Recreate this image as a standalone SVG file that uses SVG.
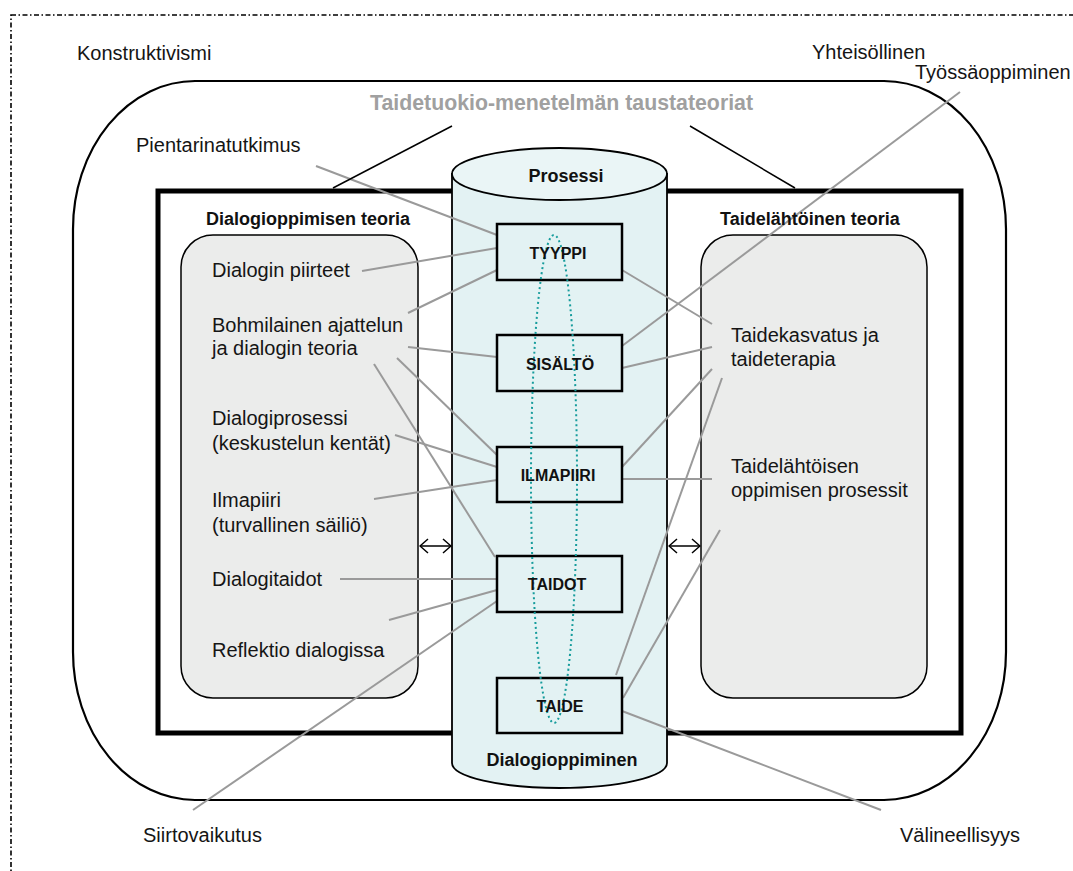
<svg xmlns="http://www.w3.org/2000/svg" width="1073" height="871" viewBox="0 0 1073 871">
<style>
.t{font-family:"Liberation Sans",Arial,sans-serif;font-size:20px;fill:#151515}
.b{font-family:"Liberation Sans",Arial,sans-serif;font-weight:bold;fill:#111}
.hd{font-size:18px}
.bx{font-size:16px;text-anchor:middle}
.g{stroke:#9a9a9a;stroke-width:2;fill:none}
.k{stroke:#000;stroke-width:1.5;fill:none}
.box{fill:#e3f2f3;stroke:#000;stroke-width:2.5}
.gray{fill:#ebeceb;stroke:#000;stroke-width:1.5}
</style>
<defs>
<marker id="ah" markerUnits="userSpaceOnUse" markerWidth="10" markerHeight="16" viewBox="0 0 10 16" refX="9" refY="8" orient="auto-start-reverse">
<path d="M1,1 L9,8 L1,15" fill="none" stroke="#000" stroke-width="1.5"/>
</marker>
</defs>
<rect width="1073" height="871" fill="#fff"/>
<g id="frame">
<rect x="11" y="15" width="1090" height="900" fill="none" stroke="#000" stroke-width="1.6" stroke-dasharray="5,2.5,1.5,2.5"/>
<rect x="73" y="81" width="933" height="719" rx="122" ry="148" fill="none" stroke="#000" stroke-width="2.2"/>
<rect x="158" y="191" width="803" height="542" fill="none" stroke="#000" stroke-width="5"/>
</g>
<g id="left-theory">
<rect class="gray" x="181" y="235" width="237" height="463" rx="32" ry="32"/>
</g>
<g id="right-theory">
<rect class="gray" x="701" y="235" width="226" height="463" rx="32" ry="32"/>
</g>
<g id="cylinder">
<path d="M452,174 L452,763 A107.5,25 0 0 0 667,763 L667,174 Z" fill="#e3f2f3" stroke="#000" stroke-width="1.8"/>
<ellipse cx="559.5" cy="174" rx="107.5" ry="26" fill="#eaf5f6" stroke="#000" stroke-width="1.8"/>
</g>
<g id="connectors">
<line class="g" x1="316" y1="166" x2="497" y2="235"/>
<line class="g" x1="362" y1="271" x2="497" y2="248"/>
<line class="g" x1="408" y1="313" x2="497" y2="270"/>
<line class="g" x1="408" y1="347" x2="497" y2="357"/>
<line class="g" x1="397" y1="358" x2="497" y2="455"/>
<line class="g" x1="374" y1="364" x2="495" y2="557"/>
<line class="g" x1="395" y1="435" x2="497" y2="467"/>
<line class="g" x1="374" y1="499" x2="497" y2="480"/>
<line class="g" x1="340" y1="579" x2="497" y2="579"/>
<line class="g" x1="389" y1="620" x2="497" y2="590"/>
<line class="g" x1="193" y1="810" x2="497" y2="601"/>
<line class="g" x1="960" y1="92" x2="622" y2="346"/>
<line class="g" x1="622" y1="270" x2="712" y2="324"/>
<line class="g" x1="622" y1="368" x2="712" y2="347"/>
<line class="g" x1="622" y1="467" x2="712" y2="369"/>
<line class="g" x1="622" y1="479" x2="712" y2="479"/>
<line class="g" x1="616" y1="675" x2="722" y2="378"/>
<line class="g" x1="623" y1="698" x2="720" y2="530"/>
<line class="g" x1="622" y1="711" x2="881" y2="810"/>
<line class="k" x1="333" y1="188" x2="452" y2="126"/>
<line class="k" x1="690" y1="126" x2="795" y2="188"/>
<line class="k" x1="420" y1="546" x2="451" y2="546" marker-start="url(#ah)" marker-end="url(#ah)"/>
<line class="k" x1="669" y1="546" x2="700" y2="546" marker-start="url(#ah)" marker-end="url(#ah)"/>
</g>
<g id="tyyppi"><rect class="box" x="497" y="224" width="125" height="56"/></g>
<g id="sisalto"><rect class="box" x="497" y="335" width="125" height="56"/></g>
<g id="ilmapiiri"><rect class="box" x="497" y="447" width="125" height="55"/></g>
<g id="taidot"><rect class="box" x="497" y="556" width="125" height="56"/></g>
<g id="taide"><rect class="box" x="497" y="678" width="125" height="55"/></g>
<g id="cycle">
<ellipse cx="554" cy="479" rx="23" ry="244" fill="none" stroke="#169c9c" stroke-width="2" stroke-dasharray="2,3"/>
</g>
<g id="labels-boxes">
<text class="b bx" x="558" y="259">TYYPPI</text>
<text class="b bx" x="560" y="370">SISÄLTÖ</text>
<text class="b bx" x="558" y="481">ILMAPIIRI</text>
<text class="b bx" x="557" y="590">TAIDOT</text>
<text class="b bx" x="560" y="712">TAIDE</text>
</g>
<g id="titles">
<text class="b" x="370" y="110" font-size="21.3" style="fill:#a0a0a0">Taidetuokio-menetelmän taustateoriat</text>
<text class="b hd" x="566" y="182" text-anchor="middle">Prosessi</text>
<text class="b hd" x="562" y="766" text-anchor="middle">Dialogioppiminen</text>
<text class="b hd" x="206" y="225">Dialogioppimisen teoria</text>
<text class="b hd" x="720" y="225">Taidelähtöinen teoria</text>
</g>
<g id="outer-labels">
<text class="t" x="77" y="60">Konstruktivismi</text>
<text class="t" x="812" y="59">Yhteisöllinen</text>
<text class="t" x="915" y="79">Työssäoppiminen</text>
<text class="t" x="136" y="152">Pientarinatutkimus</text>
<text class="t" x="143" y="842">Siirtovaikutus</text>
<text class="t" x="900" y="842">Välineellisyys</text>
</g>
<g id="left-items">
<text class="t" x="212" y="277">Dialogin piirteet</text>
<text class="t" x="212" y="332">Bohmilainen ajattelun</text>
<text class="t" x="212" y="355">ja dialogin teoria</text>
<text class="t" x="212" y="425">Dialogiprosessi</text>
<text class="t" x="212" y="450">(keskustelun kentät)</text>
<text class="t" x="212" y="507">Ilmapiiri</text>
<text class="t" x="212" y="532">(turvallinen säiliö)</text>
<text class="t" x="212" y="586">Dialogitaidot</text>
<text class="t" x="212" y="657">Reflektio dialogissa</text>
</g>
<g id="right-items">
<text class="t" x="731" y="342">Taidekasvatus ja</text>
<text class="t" x="731" y="366">taideterapia</text>
<text class="t" x="731" y="473">Taidelähtöisen</text>
<text class="t" x="731" y="497">oppimisen prosessit</text>
</g>
</svg>
